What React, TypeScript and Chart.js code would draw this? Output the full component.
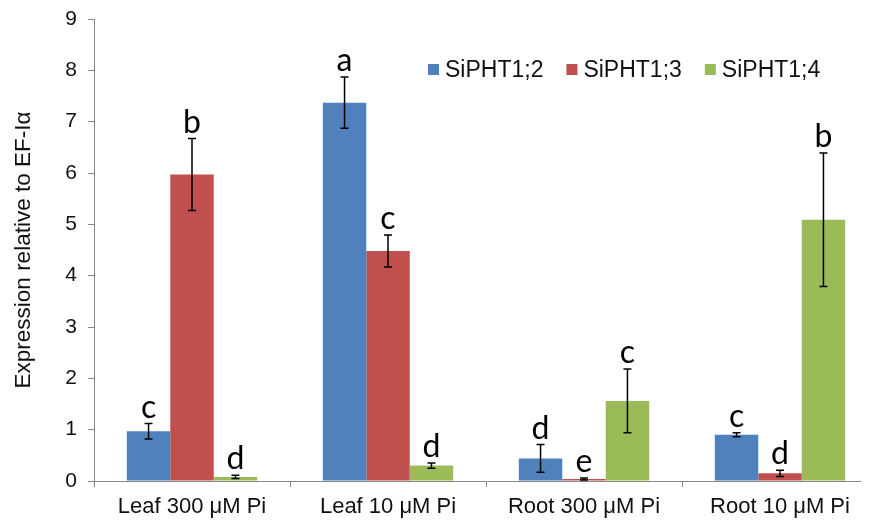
import { useEffect, useRef } from "react";
import { Chart, registerables } from "chart.js";

Chart.register(...registerables);

const categories = ["Leaf 300 μM Pi", "Leaf 10 μM Pi", "Root 300 μM Pi", "Root 10 μM Pi"];
const seriesNames = ["SiPHT1;2", "SiPHT1;3", "SiPHT1;4"];

const pht12 = [0.97, 7.37, 0.44, 0.9];
const pht12Err = [0.15, 0.5, 0.27, 0.04];
const pht12Letters = ["c", "a", "d", "c"];

const pht13 = [5.97, 4.48, 0.04, 0.15];
const pht13Err = [0.7, 0.31, 0.02, 0.06];
const pht13Letters = ["b", "c", "e", "d"];

const pht14 = [0.08, 0.3, 1.56, 5.09];
const pht14Err = [0.03, 0.05, 0.62, 1.3];
const pht14Letters = ["d", "d", "c", "b"];

const yMin = 0;
const yMax = 9;
const yStep = 1;

const colors = ["#4F81BD", "#C0504D", "#9BBB59"];
const axisColor = "#878787";
const textColor = "#111111";

const seriesValues = [pht12, pht13, pht14];
const seriesErrors = [pht12Err, pht13Err, pht14Err];
const seriesLetters = [pht12Letters, pht13Letters, pht14Letters];

const errorBarPlugin = {
  id: "errorBars",
  afterDatasetsDraw(chart: any) {
    const ctx = chart.ctx;
    const yScale = chart.scales.y;
    ctx.save();
    chart.data.datasets.forEach((ds: any, i: number) => {
      const meta = chart.getDatasetMeta(i);
      meta.data.forEach((bar: any, j: number) => {
        const v = seriesValues[i][j];
        const e = seriesErrors[i][j];
        const x = bar.x;
        const yTop = yScale.getPixelForValue(v + e);
        const yBot = yScale.getPixelForValue(Math.max(v - e, 0));
        ctx.strokeStyle = "#000";
        ctx.lineWidth = 1.5;
        ctx.beginPath();
        ctx.moveTo(x, yTop);
        ctx.lineTo(x, yBot);
        ctx.moveTo(x - 4, yTop);
        ctx.lineTo(x + 4, yTop);
        ctx.moveTo(x - 4, yBot);
        ctx.lineTo(x + 4, yBot);
        ctx.stroke();
        ctx.fillStyle = "#000";
        ctx.font = "32px Lato";
        ctx.textAlign = "center";
        ctx.textBaseline = "alphabetic";
        ctx.fillText(seriesLetters[i][j], x, yTop - 6);
      });
    });
    ctx.restore();
  },
};

const legendPlugin = {
  id: "customLegend",
  afterDraw(chart: any) {
    const ctx = chart.ctx;
    ctx.save();
    ctx.font = "23px 'Liberation Sans', Arial, sans-serif";
    ctx.textBaseline = "middle";
    ctx.textAlign = "left";
    let x = 420;
    const cy = 62;
    chart.data.datasets.forEach((ds: any) => {
      ctx.fillStyle = ds.backgroundColor;
      ctx.fillRect(x, cy - 6, 11, 11);
      ctx.fillStyle = textColor;
      ctx.fillText(ds.label, x + 17, cy + 1);
      const w = ctx.measureText(ds.label).width;
      x += 17 + w + 23;
    });
    ctx.restore();
  },
};

export default function App() {
  const canvasRef = useRef<HTMLCanvasElement | null>(null);

  useEffect(() => {
    if (!canvasRef.current) return;
    const chart = new Chart(canvasRef.current, {
      type: "bar",
      data: {
        labels: categories,
        datasets: seriesNames.map((name, i) => ({
          label: name,
          data: seriesValues[i],
          backgroundColor: colors[i],
          borderWidth: 0,
          barPercentage: 1,
          categoryPercentage: 0.665,
        })),
      },
      options: {
        responsive: false,
        animation: false,
        devicePixelRatio: 1,
        layout: { padding: { left: 0, right: 10, top: 11, bottom: 0 } },
        plugins: {
          legend: { display: false },
          tooltip: { enabled: false },
        },
        scales: {
          x: {
            grid: {
              display: true,
              drawOnChartArea: false,
              drawTicks: true,
              tickLength: 6,
              color: axisColor,
              offset: true,
            },
            border: { display: true, color: axisColor, width: 1 },
            ticks: {
              color: textColor,
              font: { family: "'Liberation Sans', Arial, sans-serif", size: 22 },
              padding: 7,
              maxRotation: 0,
              autoSkip: false,
            },
            afterFit: (s: any) => {
              s.height = 39;
              s.paddingLeft = 0;
              s.paddingRight = 0;
            },
          },
          y: {
            min: yMin,
            max: yMax,
            grid: {
              display: true,
              drawOnChartArea: false,
              drawTicks: true,
              tickLength: 6,
              color: axisColor,
            },
            border: { display: true, color: axisColor, width: 1 },
            ticks: {
              stepSize: yStep,
              color: textColor,
              font: { family: "'Liberation Sans', Arial, sans-serif", size: 21, lineHeight: 1 },
              padding: 11,
            },
            title: {
              display: true,
              text: "Expression relative to EF-Iα",
              color: textColor,
              font: { family: "'Liberation Sans', Arial, sans-serif", size: 22.5 },
              padding: { top: 2, bottom: 0 },
            },
            afterFit: (s: any) => {
              s.width = 86;
              s.paddingTop = 0;
              s.paddingBottom = 0;
            },
          },
        },
      },
      plugins: [errorBarPlugin, legendPlugin],
    });
    return () => chart.destroy();
  }, []);

  return (
    <div style={{ width: 861, height: 512, overflow: "hidden", position: "relative" }}>
      <canvas ref={canvasRef} width={880} height={512} style={{ display: "block" }} />
    </div>
  );
}
